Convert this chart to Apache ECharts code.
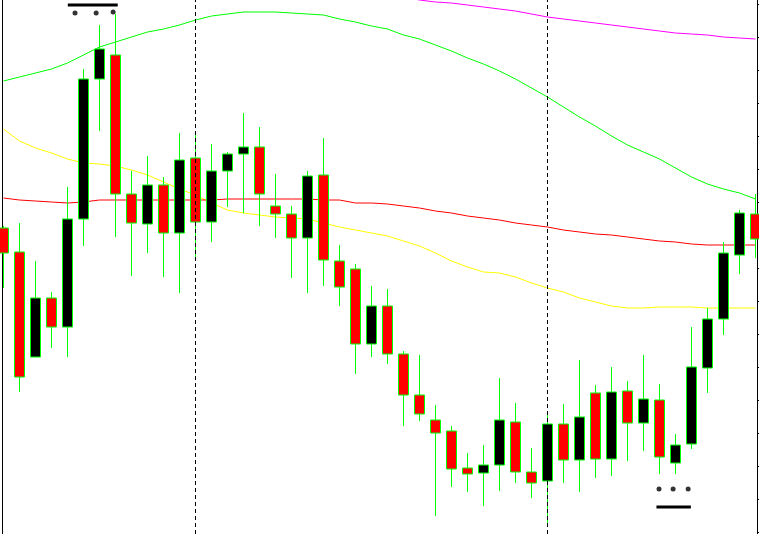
<!DOCTYPE html>
<html>
<head>
<meta charset="utf-8">
<script src="https://cdn.jsdelivr.net/npm/echarts@6/dist/echarts.min.js"></script>
<style>
  html, body { margin: 0; padding: 0; background: #fff; }
  #chart { width: 759px; height: 534px; }
</style>
</head>
<body>
<div id="chart"></div>
<script>
// bars, oldest first
var categories = []
for (var i = 0; i < 48; i++) categories.push('b' + i)

var opens = [1.30306, 1.30282, 1.30177, 1.30236, 1.30207, 1.30315, 1.30455, 1.30479, 1.30340, 1.30310,
  1.30349, 1.30301, 1.30376, 1.30312, 1.30363, 1.30380, 1.30387, 1.30328, 1.30320, 1.30296,
  1.30359, 1.30273, 1.30265, 1.30190, 1.30228, 1.30180, 1.30139, 1.30114, 1.30103, 1.30066,
  1.30061, 1.30069, 1.30112, 1.30062, 1.30053, 1.30110, 1.30074, 1.30141, 1.30075, 1.30143,
  1.30111, 1.30134, 1.30071, 1.30090, 1.30166, 1.30215, 1.30279, 1.30320]
var closes = [1.30281, 1.30157, 1.30236, 1.30207, 1.30315, 1.30455, 1.30485, 1.30340, 1.30311, 1.30349,
  1.30301, 1.30374, 1.30312, 1.30363, 1.30380, 1.30387, 1.30340, 1.30320, 1.30296, 1.30358,
  1.30274, 1.30247, 1.30190, 1.30228, 1.30180, 1.30139, 1.30120, 1.30101, 1.30065, 1.30060,
  1.30069, 1.30114, 1.30062, 1.30051, 1.30110, 1.30074, 1.30117, 1.30075, 1.30142, 1.30111,
  1.30135, 1.30077, 1.30089, 1.30167, 1.30215, 1.30281, 1.30321, 1.30295]
var lows = [1.30246, 1.30142, 1.30177, 1.30186, 1.30177, 1.30288, 1.30403, 1.30297, 1.30258, 1.30281,
  1.30257, 1.30241, 1.30273, 1.30292, 1.30327, 1.30321, 1.30308, 1.30296, 1.30256, 1.30241,
  1.30248, 1.30228, 1.30160, 1.30177, 1.30170, 1.30108, 1.30113, 1.30018, 1.30047, 1.30042,
  1.30028, 1.30043, 1.30051, 1.30036, 1.30011, 1.30051, 1.30042, 1.30056, 1.30058, 1.30073,
  1.30083, 1.30060, 1.30060, 1.30085, 1.30141, 1.30199, 1.30260, 1.30276]
var highs = [1.30308, 1.30311, 1.30273, 1.30242, 1.30347, 1.30465, 1.30509, 1.30520, 1.30363, 1.30378,
  1.30357, 1.30401, 1.30399, 1.30390, 1.30382, 1.30421, 1.30407, 1.30360, 1.30328, 1.30363,
  1.30396, 1.30289, 1.30270, 1.30248, 1.30245, 1.30183, 1.30179, 1.30129, 1.30108, 1.30081,
  1.30089, 1.30156, 1.30131, 1.30086, 1.30123, 1.30130, 1.30174, 1.30149, 1.30167, 1.30153,
  1.30179, 1.30150, 1.30100, 1.30207, 1.30226, 1.30292, 1.30324, 1.30340]

// moving averages
var maGreen = [1.30453, 1.30457, 1.30461, 1.30465, 1.30471, 1.30479, 1.30487, 1.30492, 1.30497, 1.30502,
  1.30505, 1.30509, 1.30514, 1.30518, 1.30520, 1.30522, 1.30522, 1.30522, 1.30521, 1.30520,
  1.30519, 1.30515, 1.30512, 1.30508, 1.30505, 1.30499, 1.30495, 1.30489, 1.30483, 1.30476,
  1.30470, 1.30463, 1.30455, 1.30446, 1.30437, 1.30427, 1.30417, 1.30408, 1.30398, 1.30389,
  1.30382, 1.30375, 1.30366, 1.30357, 1.30350, 1.30345, 1.30341, 1.30335]
var maYellow = [1.30405, 1.30393, 1.30386, 1.30381, 1.30375, 1.30371, 1.30370, 1.30368, 1.30364, 1.30359,
  1.30352, 1.30345, 1.30339, 1.30331, 1.30324, 1.30321, 1.30319, 1.30317, 1.30316, 1.30315,
  1.30311, 1.30307, 1.30304, 1.30301, 1.30298, 1.30293, 1.30288, 1.30281, 1.30273, 1.30267,
  1.30262, 1.30261, 1.30257, 1.30251, 1.30246, 1.30242, 1.30236, 1.30232, 1.30228, 1.30226,
  1.30226, 1.30227, 1.30227, 1.30227, 1.30226, 1.30226, 1.30226, 1.30226]
var maRed = [1.30336, 1.30334, 1.30333, 1.30332, 1.30331, 1.30332, 1.30334, 1.30334, 1.30334, 1.30334,
  1.30334, 1.30334, 1.30334, 1.30334, 1.30335, 1.30335, 1.30335, 1.30335, 1.30335, 1.30335,
  1.30334, 1.30334, 1.30331, 1.30331, 1.30330, 1.30328, 1.30326, 1.30323, 1.30321, 1.30318,
  1.30316, 1.30314, 1.30311, 1.30309, 1.30307, 1.30304, 1.30302, 1.30300, 1.30299, 1.30297,
  1.30295, 1.30293, 1.30292, 1.30290, 1.30289, 1.30289, 1.30289, 1.30289]
var maMagenta = [null, null, null, null, null, null, null, null, null, null,
  null, null, null, null, null, null, null, null, null, null,
  null, null, null, null, null, 1.30537, 1.30534, 1.30532, 1.30531, 1.30529,
  1.30527, 1.30525, 1.30523, 1.30520, 1.30517, 1.30515, 1.30513, 1.30511, 1.30509, 1.30507,
  1.30505, 1.30503, 1.30501, 1.30500, 1.30499, 1.30497, 1.30496, 1.30495]

// day separators (bar index)
var separators = [12, 34]

// price scale ticks on the right edge
var tickValues = [1.30002, 1.30035, 1.30068, 1.30101, 1.30134, 1.30167, 1.30200, 1.30233, 1.30266,
  1.30299, 1.30332, 1.30365, 1.30398, 1.30431, 1.30464, 1.30497, 1.30530]

// marker glyphs (fractional bar index, price)
var topDotX = [4.47, 5.79, 6.85]
var topDotY = [1.30521, 1.30521, 1.30522]
var topBarX = [4.02, 7.14]
var topBarY = 1.30529
var botDotX = [40.97, 41.85, 42.79]
var botDotY = [1.30045, 1.30045, 1.30045]
var botBarX = [40.81, 42.96]
var botBarY = 1.30027

var candles = []
for (var k = 0; k < opens.length; k++) {
  candles.push([opens[k], closes[k], lows[k], highs[k]])
}
var dots = []
for (var d = 0; d < 3; d++) {
  dots.push([topDotX[d], topDotY[d]])
  dots.push([botDotX[d], botDotY[d]])
}

var myChart = echarts.init(document.getElementById('chart'))

function maLine (name, data, color, z) {
  return {
    name: name,
    type: 'line',
    data: data,
    symbol: 'none',
    z: z,
    lineStyle: { color: color, width: 1 },
    silent: true
  }
}

var yellow = maLine('MA yellow', maYellow, '#ffff00', 1)
yellow.markLine = {
  silent: true,
  symbol: 'none',
  label: { show: false },
  lineStyle: { color: '#000', type: [4, 3], width: 1 },
  data: separators.map(function (s) { return { xAxis: categories[s] } })
}

var option = {
  animation: false,
  backgroundColor: '#fff',
  grid: { left: 3.5, right: 3.5, top: 0, bottom: 0 },
  xAxis: [{
    type: 'category',
    data: categories,
    boundaryGap: false,
    show: false
  }, {
    type: 'value',
    min: 0,
    max: 47,
    show: false
  }],
  yAxis: [{
    type: 'value',
    position: 'right',
    min: 1.30000,
    max: 1.30534,
    offset: 2,
    axisLine: { show: true, onZero: false, lineStyle: { color: '#000', width: 1 } },
    axisTick: { show: true, inside: false, length: 3, customValues: tickValues, lineStyle: { color: '#000' } },
    axisLabel: { show: false },
    splitLine: { show: false }
  }, {
    type: 'value',
    position: 'left',
    min: 1.30000,
    max: 1.30534,
    offset: 1,
    axisLine: { show: true, onZero: false, lineStyle: { color: '#000', width: 1 } },
    axisTick: { show: false },
    axisLabel: { show: false },
    splitLine: { show: false }
  }],
  series: [
    maLine('MA magenta', maMagenta, '#ff00ff', 1),
    maLine('MA green', maGreen, '#00ff00', 1),
    yellow,
    maLine('MA red', maRed, '#ff0000', 1),
    {
      name: 'price',
      type: 'candlestick',
      data: candles,
      barWidth: 10,
      clip: false,
      z: 3,
      itemStyle: {
        color: '#000000',
        color0: '#ff0000',
        borderColor: '#00ff00',
        borderColor0: '#00ff00',
        borderWidth: 1
      }
    },
    {
      name: 'dots',
      type: 'scatter',
      xAxisIndex: 1,
      data: dots,
      symbol: 'circle',
      symbolSize: 5,
      itemStyle: { color: '#000' },
      z: 4,
      silent: true
    },
    {
      name: 'top bar',
      type: 'line',
      xAxisIndex: 1,
      data: [[topBarX[0], topBarY], [topBarX[1], topBarY]],
      symbol: 'none',
      lineStyle: { color: '#000', width: 3 },
      z: 4,
      silent: true
    },
    {
      name: 'bottom bar',
      type: 'line',
      xAxisIndex: 1,
      data: [[botBarX[0], botBarY], [botBarX[1], botBarY]],
      symbol: 'none',
      lineStyle: { color: '#000', width: 3 },
      z: 4,
      silent: true
    }
  ]
}
myChart.setOption(option)
</script>
</body>
</html>
